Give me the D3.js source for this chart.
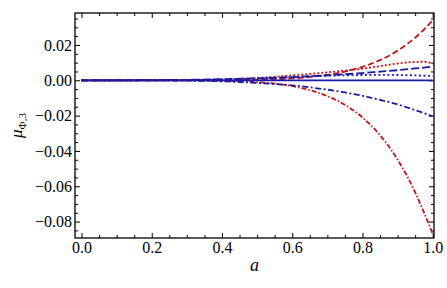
<!DOCTYPE html>
<html lang="en">
<head>
    <meta charset="UTF-8">
    <title>mu Phi 3 vs a</title>
    <script src="https://d3js.org/d3.v7.min.js"></script>
    <style>
        body { margin: 0; background: #fff; }
        svg { display: block; font-family: "Liberation Serif", "Times New Roman", serif; }
        .tick text { font-size: 16px; fill: #000; }
        .domain { stroke: none; }
        .tick line { stroke: #000; stroke-width: 1; }
        .curve { fill: none; stroke-width: 1.8; }
    </style>
</head>
<body>
    <svg id="chart" width="447" height="288"></svg>
    <script>
        // a values shared by every series
        const aVals = [0, 0.1, 0.2, 0.3, 0.4, 0.5, 0.55, 0.6, 0.65, 0.7, 0.75, 0.8, 0.85, 0.9, 0.95, 0.975, 1.0];

        // series
        const blueSolid   = [0, 0, 0, 0, 0, 0, 0, 0, 0, 0, 0, 0, 0, 0, 0, 0, 0];
        const redDash     = [0, 0, 0, 0.00001, 0.00007, 0.00033, 0.00062, 0.0011, 0.0019, 0.0031, 0.0049, 0.0076, 0.0114, 0.0168, 0.0241, 0.0287, 0.034];
        const redDot      = [0, 0, 0.00002, 0.0001, 0.0005, 0.0013, 0.002, 0.0028, 0.0036, 0.0045, 0.0055, 0.0066, 0.008, 0.0095, 0.0104, 0.0105, 0.0093];
        const redDashDot  = [0, 0, 0, -0.00004, -0.00025, -0.00104, -0.0019, -0.0033, -0.0056, -0.009, -0.0139, -0.0211, -0.0311, -0.0449, -0.0634, -0.0748, -0.087];
        const blueDash    = [0, 0.00001, 0.00008, 0.00026, 0.0006, 0.0011, 0.0014, 0.0018, 0.0023, 0.0028, 0.0034, 0.0041, 0.0049, 0.0057, 0.0067, 0.0072, 0.0077];
        const blueDot     = [0, 0, 0.00003, 0.00015, 0.0004, 0.001, 0.0014, 0.0018, 0.0022, 0.0026, 0.0028, 0.003, 0.0031, 0.003, 0.0028, 0.0026, 0.0024];
        const blueDashDot = [0, 0, -0.00005, -0.0002, -0.0006, -0.0015, -0.0021, -0.0029, -0.004, -0.0053, -0.0069, -0.0088, -0.0111, -0.0137, -0.0169, -0.0186, -0.0205];

        // tick values
        const xTicks = [0, 0.2, 0.4, 0.6, 0.8, 1.0];
        const yTicks = [0.02, 0, -0.02, -0.04, -0.06, -0.08];

        const red = "#c01818", blue = "#1a1aa6";
        const serif = "'Liberation Serif', 'Times New Roman', serif";
        const series = [
            { values: redDash,     color: red,  dash: "6,3" },
            { values: redDot,      color: red,  dash: "2,2" },
            { values: redDashDot,  color: red,  dash: "5,2,1.5,2" },
            { values: blueDash,    color: blue, dash: "8,3" },
            { values: blueDot,     color: blue, dash: "2,2.5" },
            { values: blueDashDot, color: blue, dash: "6,2.5,2,2.5" },
            { values: blueSolid,   color: blue, dash: null }
        ];

        const pLeft = 75, pRight = 434, pTop = 13, pBottom = 238;

        const x = d3.scaleLinear().domain([-0.0185, 1.0037]).range([pLeft, pRight]);
        const y = d3.scaleLinear().domain([-0.0893, 0.0381]).range([pBottom, pTop]);

        const svg = d3.select("#chart");

        const xMinor = d3.range(0, 1.001, 0.05).filter(v => Math.abs(v * 5 - Math.round(v * 5)) > 1e-6);
        const yMinor = d3.range(-0.085, 0.036, 0.005).filter(v => Math.abs(v * 50 - Math.round(v * 50)) > 1e-6);

        // major ticks with labels (bottom, left), no labels (top, right)
        svg.append("g").attr("transform", `translate(0,${pBottom})`)
            .call(d3.axisBottom(x).tickValues(xTicks).tickSize(-5).tickPadding(4).tickFormat(d3.format(".1f")))
            .attr("font-family", serif);
        svg.append("g").attr("transform", `translate(0,${pTop})`)
            .call(d3.axisTop(x).tickValues(xTicks).tickSize(-5).tickFormat(""));
        svg.append("g").attr("transform", `translate(${pLeft},0)`)
            .call(d3.axisLeft(y).tickValues(yTicks).tickSize(-5).tickPadding(3).tickFormat(d3.format(".2f")))
            .attr("font-family", serif);
        svg.append("g").attr("transform", `translate(${pRight},0)`)
            .call(d3.axisRight(y).tickValues(yTicks).tickSize(-5).tickFormat(""));

        // minor ticks
        svg.append("g").attr("transform", `translate(0,${pBottom})`)
            .call(d3.axisBottom(x).tickValues(xMinor).tickSize(-3).tickFormat(""));
        svg.append("g").attr("transform", `translate(0,${pTop})`)
            .call(d3.axisTop(x).tickValues(xMinor).tickSize(-3).tickFormat(""));
        svg.append("g").attr("transform", `translate(${pLeft},0)`)
            .call(d3.axisLeft(y).tickValues(yMinor).tickSize(-3).tickFormat(""));
        svg.append("g").attr("transform", `translate(${pRight},0)`)
            .call(d3.axisRight(y).tickValues(yMinor).tickSize(-3).tickFormat(""));

        // curves
        const line = d3.line()
            .x((d, i) => x(aVals[i]))
            .y(d => y(d))
            .curve(d3.curveMonotoneX);

        svg.selectAll(".curve")
            .data(series)
            .enter()
            .append("path")
            .attr("class", "curve")
            .attr("d", d => line(d.values))
            .attr("stroke", d => d.color)
            .attr("stroke-dasharray", d => d.dash);

        // frame
        svg.append("rect")
            .attr("x", pLeft).attr("y", pTop)
            .attr("width", pRight - pLeft).attr("height", pBottom - pTop)
            .attr("fill", "none").attr("stroke", "#000").attr("stroke-width", 1.3);

        // axis labels
        svg.append("text")
            .attr("x", (pLeft + pRight) / 2)
            .attr("y", 271)
            .attr("text-anchor", "middle")
            .attr("font-family", serif)
            .style("font-size", "18px")
            .style("font-style", "italic")
            .text("a");

        const yl = svg.append("text")
            .attr("transform", `translate(22,${(pTop + pBottom) / 2}) rotate(-90)`)
            .attr("text-anchor", "middle")
            .attr("font-family", serif)
            .style("font-size", "17px");
        yl.append("tspan").style("font-style", "italic").text("μ");
        yl.append("tspan").attr("dy", 4).style("font-size", "11px").text("Φ,3");
    </script>
</body>
</html>
